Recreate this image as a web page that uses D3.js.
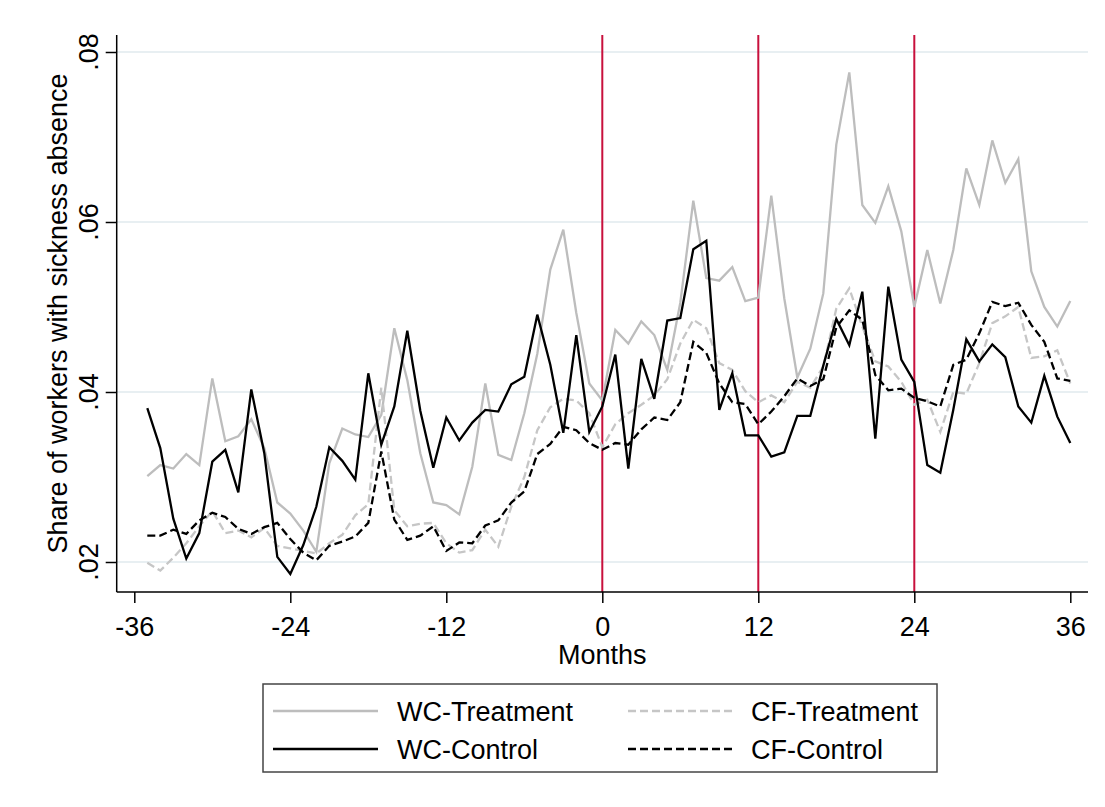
<!DOCTYPE html>
<html>
<head>
<meta charset="utf-8">
<script src="https://cdn.jsdelivr.net/npm/d3@7"></script>
<style>
  html, body { margin: 0; padding: 0; background: #fff; }
  svg { display: block; }
  text { font-family: "Liberation Sans", Arial, sans-serif; fill: #000; }
</style>
</head>
<body>
<svg id="chart" width="1105" height="807"></svg>
<script>
// Months relative to the reform (-35 .. 36)
const months = d3.range(-35, 37);

// Share of workers with sickness absence, by group
const wcTreatment = [
  0.0301, 0.0314, 0.0310, 0.0327, 0.0314, 0.0416, 0.0342, 0.0348, 0.0368, 0.0334,
  0.0270, 0.0257, 0.0237, 0.0212, 0.0316, 0.0357, 0.0350, 0.0347, 0.0373, 0.0475,
  0.0414, 0.0328, 0.0270, 0.0267, 0.0256, 0.0312, 0.0410, 0.0326, 0.0320, 0.0375,
  0.0445, 0.0544, 0.0591, 0.0493, 0.0410, 0.0390, 0.0473, 0.0457, 0.0483, 0.0467,
  0.0426, 0.0505, 0.0625, 0.0534, 0.0531, 0.0547, 0.0507, 0.0511, 0.0631, 0.0510,
  0.0417, 0.0451, 0.0516, 0.0691, 0.0776, 0.0620, 0.0599, 0.0642, 0.0589, 0.0500,
  0.0567, 0.0504, 0.0567, 0.0663, 0.0620, 0.0696, 0.0646, 0.0674, 0.0542, 0.0500,
  0.0477, 0.0507
];
const cfTreatment = [
  0.0199, 0.0190, 0.0205, 0.0222, 0.0242, 0.0260, 0.0234, 0.0237, 0.0229, 0.0240,
  0.0219, 0.0216, 0.0213, 0.0210, 0.0222, 0.0232, 0.0255, 0.0268, 0.0405, 0.0261,
  0.0242, 0.0245, 0.0246, 0.0222, 0.0211, 0.0214, 0.0238, 0.0218, 0.0265, 0.0300,
  0.0355, 0.0382, 0.0392, 0.0390, 0.0375, 0.0335, 0.0362, 0.0375, 0.0385, 0.0396,
  0.0415, 0.0457, 0.0485, 0.0475, 0.0434, 0.0426, 0.0401, 0.0388, 0.0396, 0.0388,
  0.0412, 0.0405, 0.0430, 0.0498, 0.0522, 0.0477, 0.0436, 0.0430, 0.0412, 0.0385,
  0.0391, 0.0353, 0.0400, 0.0398, 0.0434, 0.0481, 0.0489, 0.0500, 0.0440, 0.0442,
  0.0449, 0.0410
];
const wcControl = [
  0.0381, 0.0334, 0.0251, 0.0204, 0.0234, 0.0318, 0.0332, 0.0282, 0.0403, 0.0328,
  0.0206, 0.0186, 0.0220, 0.0265, 0.0335, 0.0319, 0.0297, 0.0422, 0.0338, 0.0383,
  0.0472, 0.0378, 0.0311, 0.0370, 0.0343, 0.0364, 0.0379, 0.0377, 0.0409, 0.0418,
  0.0491, 0.0432, 0.0352, 0.0467, 0.0353, 0.0383, 0.0444, 0.0310, 0.0439, 0.0392,
  0.0484, 0.0487, 0.0568, 0.0578, 0.0379, 0.0422, 0.0349, 0.0349, 0.0324, 0.0329,
  0.0372, 0.0372, 0.0431, 0.0486, 0.0455, 0.0518, 0.0345, 0.0524, 0.0438, 0.0412,
  0.0314, 0.0305, 0.0379, 0.0462, 0.0436, 0.0456, 0.0441, 0.0383, 0.0364, 0.0419,
  0.0371, 0.0340
];
const cfControl = [
  0.0231, 0.0231, 0.0238, 0.0233, 0.0249, 0.0258, 0.0253, 0.0239, 0.0233, 0.0241,
  0.0246, 0.0227, 0.0211, 0.0202, 0.0219, 0.0224, 0.0230, 0.0246, 0.0330, 0.0250,
  0.0226, 0.0231, 0.0242, 0.0213, 0.0223, 0.0222, 0.0243, 0.0249, 0.0270, 0.0283,
  0.0327, 0.0339, 0.0359, 0.0355, 0.0340, 0.0332, 0.0340, 0.0338, 0.0356, 0.0370,
  0.0367, 0.0388, 0.0459, 0.0446, 0.0410, 0.0388, 0.0386, 0.0362, 0.0377, 0.0395,
  0.0416, 0.0407, 0.0415, 0.0476, 0.0496, 0.0485, 0.0420, 0.0402, 0.0404, 0.0393,
  0.0389, 0.0383, 0.0432, 0.0438, 0.0469, 0.0506, 0.0501, 0.0505, 0.0479, 0.0459,
  0.0416, 0.0413
];

// Axis ticks and reference months
const xTicks = [-36, -24, -12, 0, 12, 24, 36];
const xTickLabels = ["-36", "-24", "-12", "0", "12", "24", "36"];
const yTicks = [0.02, 0.04, 0.06, 0.08];
const yTickLabels = [".02", ".04", ".06", ".08"];
const reformMonths = [0, 12, 24];

const seriesNames = ["WC-Treatment", "CF-Treatment", "WC-Control", "CF-Control"];
const seriesValues = [wcTreatment, cfTreatment, wcControl, cfControl];
const seriesColor = ["#bdbdbd", "#c6c6c6", "#000000", "#000000"];
const seriesDash = [null, "8,4", null, "8,4"];

const svg = d3.select("#chart");
const FONT = 27;

// plot region
const plotLeft = 116.7, plotRight = 1088, plotTop = 35, plotBottom = 592;

const x = d3.scaleLinear().domain([-36, 36]).range([134.3, 1070.3]);
const y = d3.scaleLinear().domain([0.02, 0.08]).range([562, 52]);

// horizontal gridlines
svg.append("g").selectAll("line").data(yTicks).join("line")
  .attr("x1", plotLeft).attr("x2", plotRight)
  .attr("y1", d => y(d)).attr("y2", d => y(d))
  .attr("stroke", "#e1eaee").attr("stroke-width", 1.6);

// vertical reference lines
svg.append("g").selectAll("line").data(reformMonths).join("line")
  .attr("x1", d => x(d)).attr("x2", d => x(d))
  .attr("y1", plotTop).attr("y2", plotBottom)
  .attr("stroke", "#c8103c").attr("stroke-width", 2);

// series lines
const line = d3.line().x((d, i) => x(months[i])).y(d => y(d));
seriesValues.forEach((vals, k) => {
  svg.append("path")
    .datum(vals)
    .attr("d", line)
    .attr("fill", "none")
    .attr("stroke", seriesColor[k])
    .attr("stroke-width", 2.3)
    .attr("stroke-linejoin", "miter")
    .attr("stroke-dasharray", seriesDash[k]);
});

// x axis
const xAxis = d3.axisBottom(x).tickValues(xTicks).tickSize(11).tickSizeOuter(0).tickPadding(8)
  .tickFormat((d, i) => xTickLabels[i]);
const gx = svg.append("g").attr("transform", `translate(0,${plotBottom})`).call(xAxis);
gx.select(".domain").remove();
gx.selectAll(".tick line").attr("stroke", "#000").attr("stroke-width", 1.5);
gx.selectAll(".tick text").attr("font-size", FONT).attr("fill", "#000")
  .attr("font-family", '"Liberation Sans", Arial, sans-serif')
  .attr("dy", null).attr("y", 44);
svg.append("line")
  .attr("x1", plotLeft).attr("x2", plotRight)
  .attr("y1", plotBottom).attr("y2", plotBottom)
  .attr("stroke", "#000").attr("stroke-width", 1.5);

// y axis
const yAxis = d3.axisLeft(y).tickValues(yTicks).tickSize(11).tickSizeOuter(0).tickFormat("");
const gy = svg.append("g").attr("transform", `translate(${plotLeft},0)`).call(yAxis);
gy.select(".domain").remove();
gy.selectAll(".tick line").attr("stroke", "#000").attr("stroke-width", 1.5);
svg.append("line")
  .attr("x1", plotLeft).attr("x2", plotLeft)
  .attr("y1", plotTop).attr("y2", plotBottom)
  .attr("stroke", "#000").attr("stroke-width", 1.5);
svg.append("g").selectAll("text").data(yTicks).join("text")
  .attr("transform", d => `translate(97.5,${y(d)}) rotate(-90)`)
  .attr("text-anchor", "middle")
  .attr("font-size", FONT)
  .text((d, i) => yTickLabels[i]);

// axis titles
svg.append("text")
  .attr("transform", `translate(67,${(plotTop + plotBottom) / 2}) rotate(-90)`)
  .attr("text-anchor", "middle")
  .attr("font-size", FONT)
  .text("Share of workers with sickness absence");
svg.append("text")
  .attr("x", x(0)).attr("y", 664)
  .attr("text-anchor", "middle")
  .attr("font-size", FONT)
  .text("Months");

// legend
const legend = svg.append("g");
legend.append("rect")
  .attr("x", 263).attr("y", 684).attr("width", 674).attr("height", 88)
  .attr("fill", "#fff").attr("stroke", "#444").attr("stroke-width", 1.5);
const legendPos = [
  { lx: 273, tx: 397, ly: 711 },
  { lx: 628, tx: 751, ly: 711 },
  { lx: 273, tx: 397, ly: 749 },
  { lx: 628, tx: 751, ly: 749 }
];
seriesNames.forEach((name, k) => {
  const p = legendPos[k];
  legend.append("line")
    .attr("x1", p.lx).attr("x2", p.lx + 105)
    .attr("y1", p.ly).attr("y2", p.ly)
    .attr("stroke", seriesColor[k]).attr("stroke-width", 2.3)
    .attr("stroke-dasharray", seriesDash[k]);
  legend.append("text")
    .attr("x", p.tx).attr("y", p.ly + 10)
    .attr("font-size", FONT)
    .text(name);
});
</script>
</body>
</html>
